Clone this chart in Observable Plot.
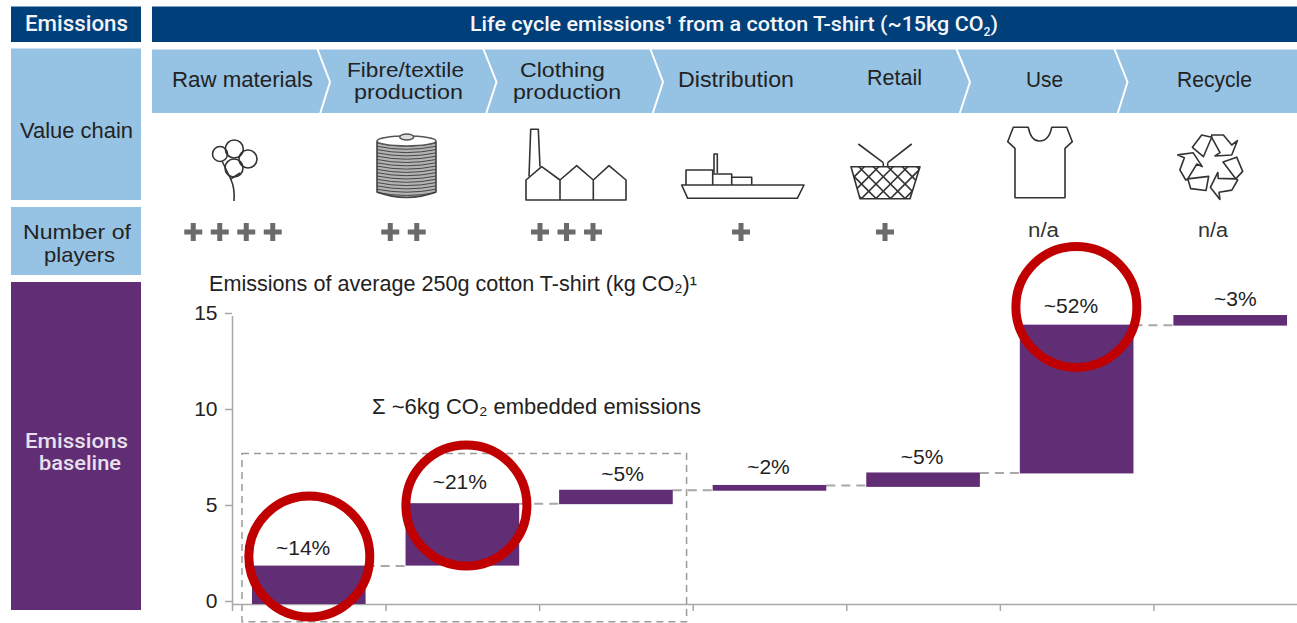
<!DOCTYPE html>
<html>
<head>
<meta charset="utf-8">
<script src="https://cdn.jsdelivr.net/npm/d3@7"></script>
<script src="https://cdn.jsdelivr.net/npm/@observablehq/plot@0.6"></script>
<style>
html,body{margin:0;padding:0;background:#fff}
svg{display:block}
</style>
</head>
<body>
<div id="chart"></div>
<script>
// ---- Data ----
const stages = ["Raw materials", "Fibre/textile production", "Clothing production", "Distribution", "Retail", "Use", "Recycle"];
const barStart = [0, 2.0, 5.2, 5.9, 6.1, 6.8, 14.5];
const barEnd   = [2.0, 5.25, 5.95, 6.2, 6.85, 14.55, 15.05];
const shares   = ["~14%", "~21%", "~5%", "~2%", "~5%", "~52%", "~3%"];
const players  = [4, 2, 3, 1, 1, null, null];
const yTicks   = [0, 5, 10, 15];
const xTicks   = [0, 1, 2, 3, 4, 5, 6, 7];

// ---- Derived tables ----
const bars = stages.map((s, i) => ({i, stage: s, y1: barStart[i], y2: barEnd[i], share: shares[i]}));
const links = bars.slice(0, -1).map(d => ({i: d.i, y: d.y2}));
const labelShift = [-0.04, -0.02, 0.04, -0.01, -0.01, -0.04, 0.03];
const labelLift  = [0.95, 1.1, 0.85, 0.95, 0.82, 0.98, 0.85];
const circleAt = [{x: 0.5, y: 2.5}, {x: 1.523, y: 5.16}, {x: 5.495, y: 15.5}];
const NAVY = "#00407a", SKY = "#96c2e4", PURPLE = "#612d74", INK = "#222", GREY = "#9a9a9a", RED = "#c00000", FONT = "'Liberation Sans', Arial, sans-serif";

// ---- Panels, chevrons, icons (decoration around the chart) ----
function decoration() {
  const g = d3.create("svg:g").attr("font-family", FONT).attr("text-anchor", "start");
  const rect = (x, y, w, h, f) => g.append("rect").attr("x", x).attr("y", y).attr("width", w).attr("height", h).attr("fill", f);
  rect(11, 6.5, 130, 35.5, NAVY);
  rect(152, 6.5, 1145, 35.5, NAVY);
  rect(11, 48.5, 130, 151.5, SKY);
  rect(11, 207, 130, 68, SKY);
  rect(11, 282, 130, 328, PURPLE);
  rect(152, 49.5, 1145, 63.5, SKY);
  for (const [a, b, c] of [[317, 330, 320], [483, 496.5, 486], [650, 663, 652.5], [956, 970, 959.5], [1114, 1127.5, 1117.5]])
    g.append("path").attr("d", `M${a},48 L${b},82 L${c},114`).attr("fill", "none").attr("stroke", "#fff").attr("stroke-width", 2);

  const txt = (s, x1, x2, cy, size, fill = INK, weight = 400, family = FONT) => {
    const t = g.append("text").attr("x", x1).attr("y", cy).attr("dy", "0.35em")
      .attr("font-size", size).attr("fill", fill).attr("font-weight", weight).attr("font-family", family)
      .attr("textLength", x2 - x1).attr("lengthAdjust", "spacingAndGlyphs");
    return t.text(s);
  };
  const MED = "Roboto, 'Liberation Sans', sans-serif";
  txt("Emissions", 25, 128, 23, 21.5, "#f4f2f7", 500, MED);
  txt("Value chain", 20, 133, 130.5, 22.5);
  txt("Number of", 23, 131, 231.5, 21);
  txt("players", 44, 115, 254.5, 21);
  txt("Emissions", 25, 128, 441, 20, "#e9e0ee", 500, MED);
  txt("baseline", 39, 121, 463, 20, "#e9e0ee", 500, MED);
  txt("Raw materials", 172, 313, 79.5, 22.5);
  txt("Fibre/textile", 347, 464, 70, 21);
  txt("production", 354, 463, 92, 21);
  txt("Clothing", 520, 605, 70, 21);
  txt("production", 513, 621, 92, 21);
  txt("Distribution", 678, 794, 79.5, 22.5);
  txt("Retail", 867, 922, 77.5, 22.5);
  txt("Use", 1026, 1063, 79.5, 22.5);
  txt("Recycle", 1177, 1252, 79.5, 22.5);
  txt("n/a", 1028, 1059, 230, 20, "#333");
  txt("n/a", 1198, 1228, 230, 20, "#333");

  // title band, with its superscript and subscript
  const title = g.append("text").attr("x", 470).attr("y", 24).attr("dy", "0.35em").attr("font-size", 21).attr("font-weight", 500).attr("font-family", MED).attr("fill", "#f4f6fa")
    .attr("textLength", 528).attr("lengthAdjust", "spacingAndGlyphs");
  title.append("tspan").text("Life cycle emissions¹ from a cotton T-shirt (~15kg CO");
  title.append("tspan").attr("dy", 5).attr("font-size", 12).text("2");
  title.append("tspan").attr("dy", -5).text(")");

  // number of players
  const plusCenters = [233, 403.5, 566.5, 741, 885];
  players.forEach((n, i) => {
    if (!n) return;
    for (let k = 0; k < n; k++) {
      const x = plusCenters[i] + (k - (n - 1) / 2) * 26.5;
      g.append("path").attr("d", `M${x - 9},232 H${x + 9} M${x},223 V241`).attr("stroke", "#6a6b6d").attr("stroke-width", 5).attr("fill", "none");
    }
  });

  // icons
  const ic = g.append("g").attr("fill", "none").attr("stroke", "#333").attr("stroke-width", 1.6).attr("stroke-linejoin", "round").style("filter", "blur(0.35px)");
  const path = (d, extra = {}) => { const p = ic.append("path").attr("d", d); for (const k in extra) p.attr(k, extra[k]); return p; };
  // balloons
  for (const [cx, cy, r] of [[220, 154, 7.5], [234.3, 149, 9], [248, 159, 9], [234, 168, 9]])
    ic.append("circle").attr("cx", cx).attr("cy", cy).attr("r", r);
  path("M222,161 L230.7,179 L240,173 M230.7,179 Q235,188 234,201");
  // spool
  path("M377,142 V192 Q406.5,203 436,192 V142 Z", {fill: "#b3b3b3", stroke: "#444"});
  for (let y = 146; y < 197; y += 3.3)
    path(`M377,${y - 3} Q406.5,${y + 3} 436,${y - 3}`, {"stroke-width": 0.9, stroke: "#3a3a3a"});
  ic.append("ellipse").attr("cx", 406.5).attr("cy", 141).attr("rx", 29.5).attr("ry", 5).attr("fill", "#fff").attr("stroke", "#555");
  ic.append("ellipse").attr("cx", 406.7).attr("cy", 137).attr("rx", 7).attr("ry", 3).attr("fill", "#ddd").attr("stroke", "#555");
  // factory
  path("M526,200 V180 L541.7,166.7 L560,180 L576.7,165.7 L593.3,180 L609,165.7 L626,180 V200 Z M560,180 V200 M593.3,180 V200");
  path("M529,176.5 L530.7,129.3 H538.3 L540,166.7");
  // ship
  path("M681.7,185 H804 L797.3,198.3 H687.7 Z");
  path("M686,185 V170 H712.7 V185 M712.7,174 H731.7 V185 M731.7,177.3 H751.7 V185");
  path("M714,173 V154 H717.3 V173");
  // basket
  path("M858.3,144 L883.3,162.7 M911.7,144 L887.7,162.7 M883.3,162.7 V166.7 M887.7,162.7 V166.7");
  const clip = g.append("clipPath").attr("id", "basketClip");
  clip.append("path").attr("d", "M851,166.7 H920 L910,198.7 H860 Z");
  const lattice = ic.append("g").attr("clip-path", "url(#basketClip)");
  for (let k = 800; k < 960; k += 14.5) {
    lattice.append("path").attr("d", `M${k},166 l36,36`);
    lattice.append("path").attr("d", `M${k + 7},166 l-36,36`);
  }
  path("M851,166.7 H920 L910,198.7 H860 Z");
  // T-shirt
  path("M1013.3,127.3 H1028.3 Q1031,141 1039.3,141 Q1049,141 1051.7,127.3 H1066.7 L1072.3,141.7 L1065,148.3 V197.7 H1015 V148.3 L1007.7,141.7 Z");
  // recycling arrows
  const arrow = "M-19.3,-17.7 L-10,-30 L0,-27.7 L-8.3,-8.3 Z M0,-30 H11.7 L20,-20 L25.7,-24.3 L20,-10 L3.3,-9 L8.3,-12.3 L0,-27.7 Z";
  for (const a of [0, 120, 240])
    path(arrow, {transform: `translate(1211.7,165) rotate(${a})`});

  // chart heading
  txt("Emissions of average 250g cotton T-shirt (kg CO₂)¹", 209, 697, 283.5, 21.5);
  txt("Σ ~6kg CO₂ embedded emissions", 372, 701, 406.5, 21.5);
  return g.node();
}

// ---- Chart ----
const chart = Plot.plot({
  width: 1297,
  height: 623,
  marginLeft: 232,
  marginRight: 0,
  marginTop: 316,
  marginBottom: 19,
  style: {fontFamily: FONT, background: "#fff", overflow: "hidden"},
  x: {domain: [0, 7], range: [232, 1307], axis: null},
  y: {domain: [0, 15], axis: null},
  marks: [
    decoration,
    // dashed "embedded emissions" box
    Plot.rect([{x1: 0.065, x2: 2.96, y1: -0.92, y2: 7.84}], {x1: "x1", x2: "x2", y1: "y1", y2: "y2", fill: "none", stroke: GREY, strokeWidth: 1.5, strokeDasharray: "7,5"}),
    Plot.ruleY([0], {x1: 0, x2: 7, stroke: "#a8a8a8", strokeWidth: 1.5}),
    Plot.ruleX([0], {y1: 0, y2: 15, stroke: "#a8a8a8", strokeWidth: 1.5}),
    Plot.axisX({ticks: xTicks, tickFormat: () => "", tickSize: 7, stroke: "#a8a8a8", strokeWidth: 1.5, label: null}),
    Plot.axisY({ticks: yTicks, tickSize: 7, tickPadding: 8, fontSize: 21, dy: -3, stroke: "#a8a8a8", strokeWidth: 1.5, fill: INK, label: null}),
    // connectors between the steps of the waterfall
    Plot.ruleY(links, {y: "y", x1: d => d.i + 0.87, x2: d => d.i + 1.13, stroke: "#a8a8a8", strokeWidth: 2, strokeDasharray: "9,6"}),
    Plot.rectY(bars, {x1: d => d.i + 0.13, x2: d => d.i + 0.87, y1: "y1", y2: "y2", fill: PURPLE}),
    Plot.text(bars, {x: d => d.i + 0.5 + labelShift[d.i], y: d => d.y2 + labelLift[d.i], text: "share", fontSize: 21, fill: INK}),
    Plot.dot(circleAt, {x: "x", y: "y", r: 60.5, fill: "none", stroke: RED, strokeWidth: 9})
  ]
});
document.getElementById("chart").appendChild(chart);
</script>
</body>
</html>
